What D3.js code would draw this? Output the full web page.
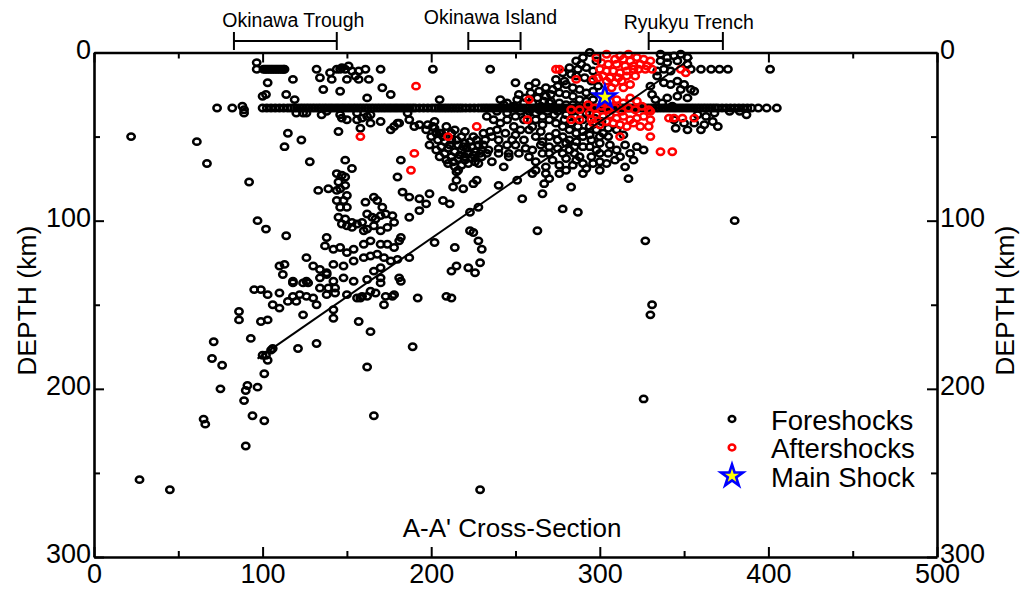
<!DOCTYPE html>
<html lang="en">
<head>
<meta charset="utf-8">
<title>A-A' Cross-Section</title>
<script src="https://cdn.jsdelivr.net/npm/d3@7"></script>
<style>
  body { margin: 0; background: #fff; }
  svg text { font-family: "Liberation Sans", Arial, sans-serif; fill: #000; }
</style>
</head>
<body>
<script>

// distance along profile (km), depth (km)
var foreshocks = [
  // deep and western outliers
  [22,50],[61,53],[67,66],[92,77],[27,254],[45,260],[65,218],[66,221],[90,234],[89,207],[90,201],[91,198],
  [94,216],[101,219],[97,199],[101,191],[93,170],[71,172],[70,182],[76,186],[75,200],[86,154],[86,159],
  [99,160],[103,159],[95,141],[99,141],[103,144],[106,150],[110,152],[97,100],[102,105],[114,109],[229,260],
  [166,216],[162,187],[189,175],[121,176],[132,173],[124,156],[132,150],[157,160],[164,166],
  // slab 135-150 km
  [115,148],[120,148],[122,144],[126,145],[118,137],[124,137],[127,137],[134,140],[139,140],[143,140],
  [138,144],[143,143],[142,153],[142,158],[158,146],[159,145],[164,142],[167,143],[170,137],[173,145],
  [177,145],[172,150],[192,146],[209,145],[182,136],[110,143],[118,145],[130,146],[150,144],[156,146],
  [162,145],[178,144],
  [103,183],[102,180],[105,177],[106,176],[100,180],
  // slab 105-135 km
  [126,122],[130,127],[134,129],[138,131],[142,126],[148,127],[154,124],[160,122],[164,121],[168,120],
  [172,122],[176,124],[180,123],[187,122],[202,113],[110,127],[113,126],[112,132],[118,136],[126,136],
  [134,134],[138,132],[142,136],[148,134],[154,136],[162,135],[166,130],[170,128],[170,134],[181,134],
  [214,116],[215,127],[212,130],[225,107],[228,112],[138,110],[137,115],[142,117],[146,116],[150,119],
  [154,117],[160,114],[164,112],[170,114],[174,114],[178,116],[181,112],[182,110],
  // slab 60-105 km
  [149,64],[153,69],[144,72],[147,73],[149,74],[145,77],[149,79],[146,81],[133,82],[139,81],[144,82],
  [150,85],[148,88],[144,88],[146,92],[150,92],[145,98],[149,99],[153,101],[147,102],[150,103],[153,104],
  [156,102],[159,101],[161,89],[166,86],[168,88],[171,92],[162,96],[165,98],[167,99],[170,97],[173,96],
  [177,97],[178,101],[174,104],[170,106],[166,103],[162,105],[160,106],[128,65],[183,83],[187,86],[193,87],
  [199,84],[197,90],[207,88],[211,90],[193,94],[187,98],[223,95],[228,92],[215,71],[215,76],[213,80],
  [219,81],[225,78],[227,76],[182,64],[180,74],
  // 35-60 km west
  [115,48],[113,56],[123,52],[124,36],[135,37],[147,39],[156,40],[162,38],[180,42],[186,36],[120,36],
  [126,36],[138,35],[146,37],[150,40],[156,36],[159,39],[164,37],[145,47],[158,45],[164,42],[176,46],
  [178,44],[181,42],[193,43],[197,46],[201,44],[205,48],[187,40],[190,44],[170,41],
  // Okinawa Trough cluster
  [198,43],[202,45],[206,48],[200,50],[204,52],[208,53],[212,52],[216,55],[220,54],[224,56],[228,55],
  [210,57],[214,59],[218,58],[222,60],[226,59],[230,58],[206,56],[212,62],[216,63],[220,64],[224,63],
  [210,66],[214,68],[218,67],[222,66],[216,70],[220,62],[199,55],[203,58],[208,60],[230,62],[226,65],
  [212,48],[218,50],[225,50],[232,52],[202,41],[209,44],[228,66],
  [205,62],[209,64],[213,65],[217,61],[221,57],[225,61],[229,60],[211,55],[215,52],[219,56],[223,53],
  [227,52],[207,50],[203,48],[214,46],[220,47],[231,48],[233,60],
  [233,38],[237,40],[241,42],[239,46],[235,47],[245,40],[249,44],[253,46],[250,49],[245,55],[240,60],
  [236,65],[243,68],[231,55],[234,58],[246,62],
  // cluster near the main shock
  [294,0],[289,7],[292,9],[296,11],[286,14],[291,15],[295,17],[280,19],[284,21],[288,22],[292,24],[296,23],
  [268,21],[272,22],[276,24],[280,25],[284,26],[288,28],[292,29],[296,28],[264,23],[268,26],[271,29],
  [276,30],[280,31],[284,31],[241,28],[245,30],[249,32],[253,35],[257,37],[262,36],[266,38],[270,40],
  [274,42],[278,44],[282,46],[286,48],[290,50],[301,41],[250,55],[255,52],[260,58],[265,55],[270,60],
  [275,57],[280,63],[285,60],[290,66],[295,62],[300,65],[305,60],[310,58],[315,55],[262,65],[268,68],
  [276,67],[284,67],[292,69],[246,60],[240,57],[258,62],[260,44],[265,47],[270,50],[275,52],[280,54],
  [285,56],[290,56],[295,52],[300,54],[305,50],[298,46],[294,44],[275,35],[280,37],[285,38],[290,40],
  [270,30],[265,32],[260,30],[256,27],[252,25],[258,20],[262,18],[274,16],[278,12],[282,9],[286,5],
  [290,3],[298,5],[299,20],[255,40],[250,38],[245,36],
  [287,10],[283,13],[279,17],[275,20],[271,25],[267,29],[263,27],[259,24],[255,30],[251,28],[247,33],
  [243,31],[239,35],[258,35],[262,40],[266,43],[258,46],[262,50],[266,53],[270,56],[274,48],[278,50],
  [282,52],[286,53],[290,47],[294,49],[298,58],[302,48],[306,55],[294,56],[288,62],[282,58],[278,60],
  [272,64],[266,60],[256,57],[252,60],[248,52],[244,48],[240,52],[236,50],[287,44],[283,42],[279,40],
  [273,37],[269,35],[264,34],[284,35],[300,60],[296,66],[304,66],[309,64],[312,62],[318,60],[322,56],
  [314,49],[310,46],[305,45],[297,39],[292,36],[300,50],[286,64],[276,72],[268,72],[262,70],
  [260,72],[270,75],[280,70],[290,72],[300,70],[315,68],[320,64],[326,58],[317,75],[283,80],[267,78],
  [266,84],[254,87],[251,76],[240,79],[278,93],[287,95],[263,106],[223,106],[230,117],[229,125],[226,131],
  [222,128],[212,146],[326,206],[331,150],[330,156],[327,112],[380,100],
  // 0-30 km
  [96.5,6],[96.5,10],[100.5,10],[101.5,10],[102.5,10],[103.5,10],[104.5,10],[105.5,10],[106.5,10],
  [107.5,10],[108.5,10],[109.5,10],[110.5,10],[111.5,10],[112.5,10],[113,10],[132,10],[134,15],[140,12],
  [144,10],[147,9],[149,10],[151,8],[153,11],[150,16],[157,11],[157,16],[161,10],[163,16],[170,10],
  [103,18],[118,16],[100,26],[102,25],[114,25],[119,28],[136,22],[146,23],[171,21],[176,25],[162,27],
  [201,10],[235,10],[250,18],[205,28],[146,10],[141,16],[155,14],
  // east of the trench axis
  [334,11],[338,10],[342,11],[354,10],[360,10],[366,10],[371,10],[376,10],[401,10],[336,1],[340,3],
  [344,2],[348,1],[352,3],[336,5],[340,6],[346,5],[352,7],[342,19],[346,17],[350,19],[356,23],[340,27],
  [346,26],[352,27],[348,22],[354,22],[344,40],[350,42],[356,42],[362,43],[367,41],[377,35],[383,35],
  [387,37],[333,28],[337,30],[343,32],[358,37],[363,38],[368,36],[345,45],[352,46],[360,46],[370,44],
  [334,14],[338,18],[330,20],[331,25],
  [73,33],[82,33],[88,32],[89,34],[89,36]
];

// events fixed at 33 km depth
var fixedDepth = 33;
var fixedDepthX = [
  100,102.5,105,107.5,110,112.5,115,117,118.8,120.5,122.3,124,125.8,127.5,129.3,131,132.8,134.5,136.3,138,
  139.8,141.5,143.3,145,146.8,148.5,150.3,152,153.8,155.5,157.3,159,160.8,162.5,164.3,166,167.8,169.5,171.3,
  173,174.8,176.5,178.3,180,181.8,183.5,185.3,187,188.8,190.5,193,195.5,198,200.5,202.5,204.3,206,207.8,
  209.5,211.3,213,214.8,216.5,218.3,220.5,223,225.5,228,230,231.8,233.5,235.3,237,238.8,240.5,242.3,244,
  245.8,247.5,249.3,251,252.8,254.5,256.3,258,259.8,261.5,263.3,265,266.8,268.5,270.3,272,273.8,275.5,277.3,
  279,280.8,282.5,284.3,286,287.8,289.5,291.3,293,294.8,296.5,298.3,300,301.8,303.5,305.3,307,308.8,310.5,
  312.3,314,315.8,317.5,319.3,321,322.8,324.5,326.3,328,329.8,331.5,333.3,335,336.8,338.5,340.3,342,343.8,
  345.5,347.3,349,350.8,352.5,354.3,356,357.8,359.5,361.3,363,364.8,366.5,368.3,370,372.5,375,377.5,380,
  382.5,385,387.5,390,394,399,405
];

var aftershocks = [
  [304,1],[309,4],[314,4],[318,5],[301,6],[305,7],[310,7],[315,8],[320,8],[324,7],[300,10],[304,11],[308,11],
  [312,12],[316,11],[320,10],[323,10],[327,10],[302,14],[306,15],[311,15],[316,14],[321,14],[304,17],[309,18],
  [313,17],[318,19],[307,21],[314,21],[298,3],[322,3],[326,4],[330,5],[312,2],[317,1],[328,8],[331,10],
  [299,15],[296,16],
  [286,16],[276,10],[258,28],[257,40],[310,28],[314,30],[318,27],[322,29],[283,34],[288,34],[283,40],[288,40],
  [295,40],[293,31],[297,33],[301,32],[305,34],[309,33],[313,35],[317,33],[321,34],[325,32],[329,34],[294,36],
  [298,37],[302,38],[306,37],[310,39],[314,38],[318,40],[322,39],[326,38],[330,40],[296,42],[300,43],[304,41],
  [308,42],[312,43],[316,44],[320,42],[324,44],[329,44],[330,35],[341,39],[344,39],[349,39],[356,39],[312,50],
  [330,50],[336,59],[343,59],[348,10],[351,12],[302,30],[306,29],
  [158,50],[190,60],[188,70],[191,20],[210,50],[227,44],[274,10]
];

var mainShock = [303, 26.5];

// slab line
var slabLine = [[97,182],[355,3]];

var regionNames = ["Okinawa Trough", "Okinawa Island", "Ryukyu Trench"];
var regionFrom = [83, 222, 329];
var regionTo = [144, 253, 373];

var xTicks = [0, 100, 200, 300, 400, 500];
var xMinor = [50, 150, 250, 350, 450];
var yTicks = [0, 100, 200, 300];
var yMinor = [50, 150, 250];

var legendLabels = ["Foreshocks", "Aftershocks", "Main Shock"];
var sectionTitle = "A-A' Cross-Section";
var yTitle = "DEPTH (km)";

// ---------------------------------------------------------------

var w = 1032, h = 596;

var x = d3.scaleLinear().domain([0, 500]).range([94, 937]);
var y = d3.scaleLinear().domain([0, 300]).range([52.5, 557]);

var svg = d3.select("body").append("svg")
  .attr("width", w)
  .attr("height", h);

var allFore = foreshocks.concat(fixedDepthX.map(function(v) { return [v, fixedDepth]; }));

var RX = 3.7, RY = 3.2, SW = 2.5;

function dots(data, color) {
  svg.append("g")
    .selectAll("ellipse")
    .data(data)
    .enter()
    .append("ellipse")
    .attr("cx", function(d) { return x(d[0]); })
    .attr("cy", function(d) { return y(d[1]); })
    .attr("rx", RX)
    .attr("ry", RY)
    .attr("fill", "none")
    .attr("stroke", color)
    .attr("stroke-width", SW);
}

dots(allFore, "#000");
dots(aftershocks, "#ff0000");

svg.append("line")
  .attr("x1", x(slabLine[0][0])).attr("y1", y(slabLine[0][1]))
  .attr("x2", x(slabLine[1][0])).attr("y2", y(slabLine[1][1]))
  .attr("stroke", "#000")
  .attr("stroke-width", 2);

var star = d3.symbol().type(d3.symbolStar).size(150);

svg.append("path")
  .attr("d", star())
  .attr("transform", "translate(" + x(mainShock[0]) + "," + y(mainShock[1]) + ")")
  .attr("fill", "#ffff00")
  .attr("stroke", "#0000ff")
  .attr("stroke-width", 2.6);

// axes, ticks point inward
function styleAxis(g) {
  g.attr("font-size", 27).attr("font-family", "'Liberation Sans', Arial, sans-serif");
  g.select(".domain").attr("stroke-width", 2.6);
  g.selectAll(".tick line").attr("stroke-width", 2);
}
function minorOnly(g) {
  g.select(".domain").remove();
  g.selectAll("line").attr("stroke-width", 2);
}

svg.append("g")
  .attr("transform", "translate(0," + y(300) + ")")
  .call(d3.axisBottom(x).tickValues(xTicks).tickSize(-10).tickSizeOuter(0).tickPadding(7))
  .call(styleAxis);
svg.append("g")
  .attr("transform", "translate(0," + y(300) + ")")
  .call(d3.axisBottom(x).tickValues(xMinor).tickSize(-6).tickFormat(""))
  .call(minorOnly);

svg.append("g")
  .attr("transform", "translate(0," + y(0) + ")")
  .call(d3.axisTop(x).tickValues(xTicks).tickSize(-10).tickSizeOuter(0).tickFormat(""))
  .call(styleAxis);
svg.append("g")
  .attr("transform", "translate(0," + y(0) + ")")
  .call(d3.axisTop(x).tickValues(xMinor).tickSize(-6).tickFormat(""))
  .call(minorOnly);

svg.append("g")
  .attr("transform", "translate(" + x(0) + ",0)")
  .call(d3.axisLeft(y).tickValues(yTicks).tickSize(-10).tickSizeOuter(0).tickPadding(3))
  .call(styleAxis)
  .selectAll("text").attr("dy", "0.22em");
svg.append("g")
  .attr("transform", "translate(" + x(0) + ",0)")
  .call(d3.axisLeft(y).tickValues(yMinor).tickSize(-6).tickFormat(""))
  .call(minorOnly);

svg.append("g")
  .attr("transform", "translate(" + x(500) + ",0)")
  .call(d3.axisRight(y).tickValues(yTicks).tickSize(-10).tickSizeOuter(0).tickPadding(3))
  .call(styleAxis)
  .selectAll("text").attr("dy", "0.22em");
svg.append("g")
  .attr("transform", "translate(" + x(500) + ",0)")
  .call(d3.axisRight(y).tickValues(yMinor).tickSize(-6).tickFormat(""))
  .call(minorOnly);

// axis titles
svg.append("text")
  .attr("transform", "translate(36," + (y(150) - 4) + ") rotate(-90)")
  .attr("text-anchor", "middle")
  .attr("font-size", 26.5)
  .text(yTitle);
svg.append("text")
  .attr("transform", "translate(1014," + (y(150) - 4) + ") rotate(-90)")
  .attr("text-anchor", "middle")
  .attr("font-size", 26.5)
  .text(yTitle);

svg.append("text")
  .attr("x", x(248))
  .attr("y", 537)
  .attr("text-anchor", "middle")
  .attr("font-size", 26)
  .text(sectionTitle);

// regions above the plot
var labelBase = [27, 24, 29];
var labelShift = [8, -4, 3];
regionNames.forEach(function(name, i) {
  var x0 = x(regionFrom[i]), x1 = x(regionTo[i]);
  var g = svg.append("g").attr("stroke", "#000").attr("stroke-width", 2);
  g.append("line").attr("x1", x0).attr("x2", x1).attr("y1", 41).attr("y2", 41);
  g.append("line").attr("x1", x0).attr("x2", x0).attr("y1", 32).attr("y2", 50);
  g.append("line").attr("x1", x1).attr("x2", x1).attr("y1", 32).attr("y2", 50);
  svg.append("text")
    .attr("x", (x0 + x1) / 2 + labelShift[i])
    .attr("y", labelBase[i])
    .attr("text-anchor", "middle")
    .attr("font-size", 19.5)
    .text(name);
});

// legend
var legend = svg.append("g").attr("transform", "translate(732,419)");
legendLabels.forEach(function(label, i) {
  var row = legend.append("g").attr("transform", "translate(0," + (i * 28.5) + ")");
  if (i < 2) {
    row.append("ellipse")
      .attr("rx", RX - 0.4).attr("ry", RY - 0.3)
      .attr("fill", "none")
      .attr("stroke", i === 0 ? "#000" : "#ff0000")
      .attr("stroke-width", SW);
  } else {
    row.append("path")
      .attr("d", star())
      .attr("fill", "#ffff00")
      .attr("stroke", "#0000ff")
      .attr("stroke-width", 2.6);
  }
  row.append("text")
    .attr("x", 39)
    .attr("y", 10.5)
    .attr("font-size", 27.5)
    .text(label);
});
</script>
</body>
</html>
